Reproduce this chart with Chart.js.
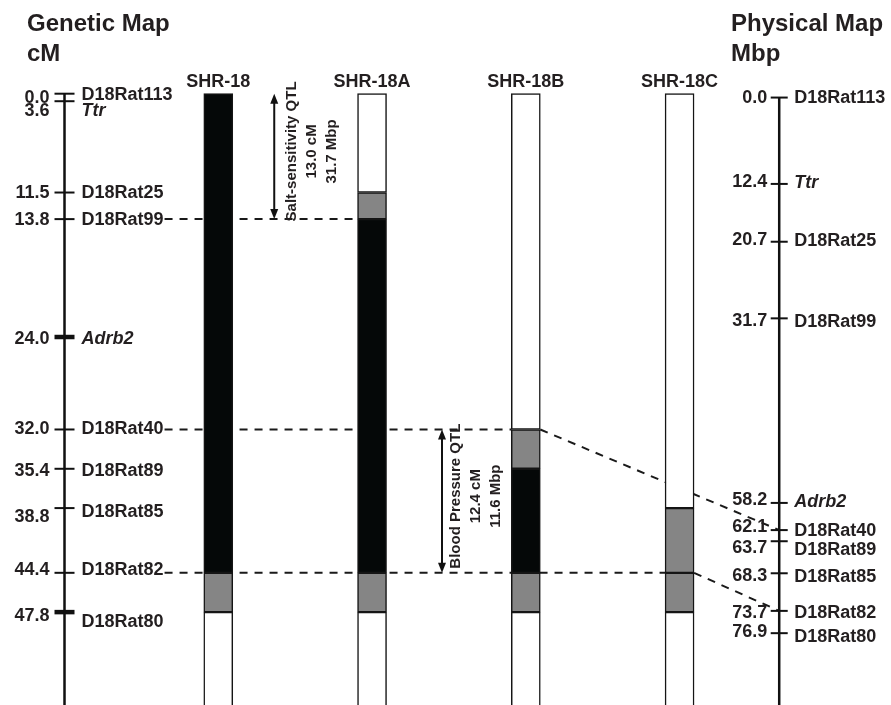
<!DOCTYPE html>
<html>
<head>
<meta charset="utf-8">
<script src="https://cdn.jsdelivr.net/npm/chart.js@4.4.1/dist/chart.umd.min.js"></script>
<style>
  body { margin: 0; background: #fff; }
</style>
</head>
<body>
<canvas id="map" width="891" height="705"></canvas>
<script>
// genetic map, cM
const genMarkers = ['D18Rat113', 'Ttr', 'D18Rat25', 'D18Rat99', 'Adrb2', 'D18Rat40', 'D18Rat89', 'D18Rat85', 'D18Rat82', 'D18Rat80'];
const genCM = [0.0, 3.6, 11.5, 13.8, 24.0, 32.0, 35.4, 38.8, 44.4, 47.8];

// physical map, Mbp
const physMarkers = ['D18Rat113', 'Ttr', 'D18Rat25', 'D18Rat99', 'Adrb2', 'D18Rat40', 'D18Rat89', 'D18Rat85', 'D18Rat82', 'D18Rat80'];
const physMbp = [0.0, 12.4, 20.7, 31.7, 58.2, 62.1, 63.7, 68.3, 73.7, 76.9];

const genes = ['Ttr', 'Adrb2'];

// congenic strains, segments as [from cM, to cM, genotype]
// S = SHR donor, F = flanking / undetermined, W = recipient background
const strains = ['SHR-18', 'SHR-18A', 'SHR-18B', 'SHR-18C'];
const seg18  = [[0, 44.4, 'S'], [44.4, 47.8, 'F'], [47.8, 60, 'W']];
const seg18A = [[0, 11.5, 'W'], [11.5, 13.8, 'F'], [13.8, 44.4, 'S'], [44.4, 47.8, 'F'], [47.8, 60, 'W']];
const seg18B = [[0, 32.0, 'W'], [32.0, 35.4, 'F'], [35.4, 44.4, 'S'], [44.4, 47.8, 'F'], [47.8, 60, 'W']];
const seg18C = [[0, 38.8, 'W'], [38.8, 44.4, 'F'], [44.4, 47.8, 'F'], [47.8, 60, 'W']];

// dashed links: genetic marker -> strain -> physical marker
const linkMarkers = ['D18Rat99', 'D18Rat40', 'D18Rat82'];
const linkStrain = ['SHR-18A', 'SHR-18B', 'SHR-18C'];
const linkPhys = [null, 'D18Rat40', 'D18Rat82'];

// QTL intervals
const qtlNames = ['Salt-sensitivity QTL', 'Blood Pressure QTL'];
const qtlFrom = [0.0, 32.0];
const qtlTo = [13.8, 44.4];
const qtlCM = ['13.0 cM', '12.4 cM'];
const qtlMbp = ['31.7 Mbp', '11.6 Mbp'];

// ---- layout / style ----
const chromTop = 2.95;      // 0.0 cM is drawn squeezed at the top of the chromosome
const chromEndCM = 60, chromEndMbp = 90;
const genAxisX = 0, physAxisX = 4.648;
const qtlX = [1.364, 2.455];
const qtlTextDx = [18, 14];
const halfBar = 14.5;

const genTickW = [2, 2, 2, 2, 4.5, 2, 2, 2, 2, 4.5];
const genNumDy = [4, 10, 1, 1, 2, 0, 2, 9, -3, 4];
const genNameDy = [1, 10, 1, 1, 2, 0, 2, 4, -3, 10];
const physNumDy = [0, -2, -2, 3, -2.5, -3, 7, 3, 2, -1];
const physNameDy = [0, -1, -1, 4, -1, 1, 9, 4, 2, 4];

const ink = '#231f20';
const fill = { S: '#050808', F: '#858585', W: '#ffffff' };
const labelFont = 'bold 18px "Liberation Sans", Arial, sans-serif';
const geneFont = 'italic bold 18px "Liberation Sans", Arial, sans-serif';

const barPoints = [], barColors = [];
[seg18, seg18A, seg18B, seg18C].forEach((segs, i) => {
  segs.forEach(([a, b, g]) => {
    barPoints.push({ x: i + 1, y: [Math.max(a, chromTop), b] });
    barColors.push(fill[g]);
  });
});

const linkPlugin = {
  id: 'links',
  beforeDatasetsDraw(chart) {
    const { ctx, scales: { x, g, p } } = chart;
    ctx.save();
    ctx.strokeStyle = '#1a1a1a';
    ctx.lineWidth = 2;
    ctx.setLineDash([8, 7]);
    ctx.font = labelFont;
    linkMarkers.forEach((m, i) => {
      const gi = genMarkers.indexOf(m);
      const y = g.getPixelForValue(genCM[gi]);
      const x0 = x.getPixelForValue(genAxisX) + 17 + ctx.measureText(m).width + 1;
      const sx = x.getPixelForValue(strains.indexOf(linkStrain[i]) + 1);
      ctx.beginPath();
      ctx.moveTo(x0, y);
      ctx.lineTo(sx - halfBar, y);
      ctx.stroke();
      if (linkPhys[i]) {
        const pi = physMarkers.indexOf(linkPhys[i]);
        ctx.beginPath();
        ctx.moveTo(sx + halfBar, y);
        ctx.lineTo(x.getPixelForValue(physAxisX), p.getPixelForValue(physMbp[pi]));
        ctx.stroke();
      }
    });
    ctx.restore();
  }
};

const labelPlugin = {
  id: 'mapLabels',
  afterDatasetsDraw(chart) {
    const { ctx, scales: { x, g } } = chart;
    ctx.save();
    ctx.fillStyle = ink;

    // titles
    ctx.font = 'bold 24px "Liberation Sans", Arial, sans-serif';
    ctx.textAlign = 'left';
    ctx.textBaseline = 'alphabetic';
    ctx.fillText('Genetic Map', 27, 31);
    ctx.fillText('cM', 27, 61);
    ctx.fillText('Physical Map', 731, 31);
    ctx.fillText('Mbp', 731, 61);

    // strain names
    ctx.font = labelFont;
    ctx.textAlign = 'center';
    ctx.textBaseline = 'middle';
    strains.forEach((s, i) => {
      ctx.fillText(s, x.getPixelForValue(i + 1), g.getPixelForValue(chromTop) - 12);
    });

    // marker labels
    const gt = chart.getDatasetMeta(3).data;
    genMarkers.forEach((m, i) => {
      const pt = gt[i];
      ctx.font = labelFont;
      ctx.textAlign = 'right';
      ctx.fillText(genCM[i].toFixed(1), pt.x - 15, pt.y + genNumDy[i]);
      ctx.font = genes.includes(m) ? geneFont : labelFont;
      ctx.textAlign = 'left';
      ctx.fillText(m, pt.x + 17, pt.y + genNameDy[i]);
    });
    const pt2 = chart.getDatasetMeta(4).data;
    physMarkers.forEach((m, i) => {
      const pt = pt2[i];
      ctx.font = labelFont;
      ctx.textAlign = 'right';
      ctx.fillText(physMbp[i].toFixed(1), pt.x - 12, pt.y + physNumDy[i]);
      ctx.font = genes.includes(m) ? geneFont : labelFont;
      ctx.textAlign = 'left';
      ctx.fillText(m, pt.x + 15, pt.y + physNameDy[i]);
    });

    // QTL arrows
    ctx.strokeStyle = '#111';
    ctx.fillStyle = '#111';
    ctx.lineWidth = 2;
    qtlNames.forEach((name, i) => {
      const ax = x.getPixelForValue(qtlX[i]);
      const y1 = g.getPixelForValue(Math.max(qtlFrom[i], chromTop));
      const y2 = g.getPixelForValue(qtlTo[i]);
      ctx.beginPath();
      ctx.moveTo(ax, y1 + 6);
      ctx.lineTo(ax, y2 - 6);
      ctx.stroke();
      ctx.beginPath();
      ctx.moveTo(ax, y1); ctx.lineTo(ax - 4, y1 + 10); ctx.lineTo(ax + 4, y1 + 10);
      ctx.closePath(); ctx.fill();
      ctx.beginPath();
      ctx.moveTo(ax, y2); ctx.lineTo(ax - 4, y2 - 10); ctx.lineTo(ax + 4, y2 - 10);
      ctx.closePath(); ctx.fill();

      const mid = (y1 + y2) / 2 - 5;
      ctx.fillStyle = ink;
      ctx.font = 'bold 15px "Liberation Sans", Arial, sans-serif';
      ctx.textAlign = 'center';
      ctx.textBaseline = 'middle';
      [name, qtlCM[i], qtlMbp[i]].forEach((t, k) => {
        ctx.save();
        ctx.translate(ax + qtlTextDx[i] + k * 20, mid);
        ctx.rotate(-Math.PI / 2);
        ctx.fillText(t, 0, 0);
        ctx.restore();
      });
      ctx.fillStyle = '#111';
    });
    ctx.restore();
  }
};

new Chart(document.getElementById('map'), {
  type: 'bar',
  data: {
    datasets: [
      {
        type: 'bar', data: barPoints, backgroundColor: barColors,
        borderColor: '#151515', borderWidth: 1.5, borderSkipped: false,
        barThickness: 29, grouped: false, yAxisID: 'g', order: 1
      },
      {
        type: 'line', data: [{ x: genAxisX, y: chromTop }, { x: genAxisX, y: chromEndCM }],
        borderColor: '#111', borderWidth: 2.5, pointRadius: 0, yAxisID: 'g', order: 2
      },
      {
        type: 'line', data: [{ x: physAxisX, y: physMbp[0] }, { x: physAxisX, y: chromEndMbp }],
        borderColor: '#111', borderWidth: 2.5, pointRadius: 0, yAxisID: 'p', order: 2
      },
      {
        type: 'line', showLine: false, yAxisID: 'g', order: 3,
        data: genCM.map(v => ({ x: genAxisX, y: Math.max(v, chromTop) })),
        pointStyle: 'line', pointRadius: 10, pointBorderWidth: genTickW, pointBorderColor: '#111'
      },
      {
        type: 'line', showLine: false, yAxisID: 'p', order: 3,
        data: physMbp.map(v => ({ x: physAxisX, y: v })),
        pointStyle: 'line', pointRadius: 8.5, pointBorderWidth: 2, pointBorderColor: '#111'
      }
    ]
  },
  options: {
    responsive: false,
    animation: false,
    events: [],
    devicePixelRatio: 1,
    layout: { padding: 0, autoPadding: false },
    plugins: { legend: { display: false }, tooltip: { enabled: false } },
    scales: {
      x: { type: 'linear', min: -0.4195, max: 5.375, offset: false, display: false },
      g: { type: 'linear', reverse: true, min: -5.156, max: 55.836, display: false },
      p: { type: 'linear', reverse: true, min: -14.007, max: 87.213, display: false }
    }
  },
  plugins: [linkPlugin, labelPlugin]
});
</script>
</body>
</html>
